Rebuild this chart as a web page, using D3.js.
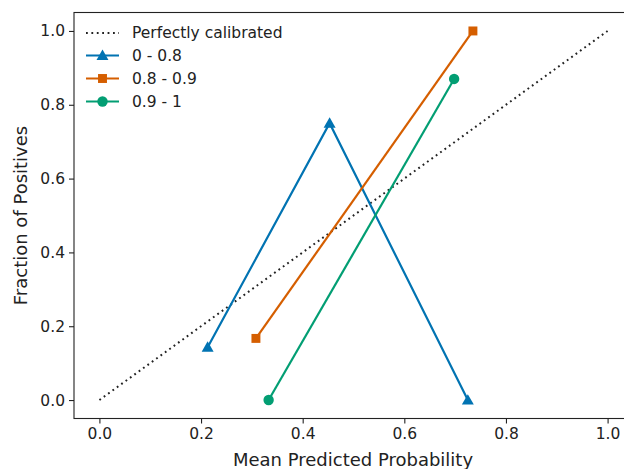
<!DOCTYPE html>
<html>
<head>
<meta charset="utf-8">
<script src="https://cdn.jsdelivr.net/npm/d3@7"></script>
<style>
  html, body { margin: 0; padding: 0; background: #fff; }
  svg { display: block; }
  text { font-family: "DejaVu Sans", sans-serif; fill: #222; }
</style>
</head>
<body>
<svg id="chart" width="624" height="469"></svg>
<script>
// ---- data ----
const seriesNames = ["0 - 0.8", "0.8 - 0.9", "0.9 - 1"];
const seriesColors = ["#0173b2", "#d55e00", "#029e73"];
const seriesMarkers = ["triangle", "square", "circle"];
const predA = [0.213, 0.453, 0.725];
const fracA = [0.143, 0.75, 0.0];
const predB = [0.308, 0.735];
const fracB = [0.167, 1.0];
const predC = [0.333, 0.698];
const fracC = [0.0, 0.87];
const diagX = [0, 1];
const diagY = [0, 1];
const xTicks = [0.0, 0.2, 0.4, 0.6, 0.8, 1.0];
const yTicks = [0.0, 0.2, 0.4, 0.6, 0.8, 1.0];
const xLabel = "Mean Predicted Probability";
const yLabel = "Fraction of Positives";
const diagLabel = "Perfectly calibrated";

const seriesData = [
  predA.map((p, i) => [p, fracA[i]]),
  predB.map((p, i) => [p, fracB[i]]),
  predC.map((p, i) => [p, fracC[i]])
];

// ---- layout ----
const svg = d3.select("#chart");
const mLeft = 74, mTop = 12.5, plotBottom = 418.5, plotRight = 633;
const x = d3.scaleLinear().domain([-0.05, 1.05]).range([mLeft, plotRight]);
const y = d3.scaleLinear().domain([-0.05, 1.05]).range([plotBottom, mTop]);

const tickFont = 15.5;
const labelFont = 18;

// axes
const xAxis = d3.axisBottom(x).tickValues(xTicks).tickFormat(d3.format(".1f")).tickSize(5).tickPadding(4);
const yAxis = d3.axisLeft(y).tickValues(yTicks).tickFormat(d3.format(".1f")).tickSize(5).tickPadding(4);

const gx = svg.append("g").attr("transform", `translate(0,${plotBottom})`).call(xAxis);
const gy = svg.append("g").attr("transform", `translate(${mLeft},0)`).call(yAxis);
[gx, gy].forEach(g => {
  g.select(".domain").remove();
  g.selectAll(".tick line").attr("stroke", "#222").attr("stroke-width", 1.1);
  g.selectAll(".tick text").attr("font-size", tickFont).attr("font-family", "DejaVu Sans").attr("fill", "#222");
});

// frame
svg.append("rect")
  .attr("x", mLeft).attr("y", mTop)
  .attr("width", plotRight - mLeft).attr("height", plotBottom - mTop)
  .attr("fill", "none").attr("stroke", "#222").attr("stroke-width", 1.1);

// labels
svg.append("text")
  .attr("x", 353).attr("y", 466)
  .attr("text-anchor", "middle").attr("font-size", labelFont)
  .text(xLabel);
svg.append("text")
  .attr("transform", `translate(27,${(mTop + plotBottom) / 2}) rotate(-90)`)
  .attr("text-anchor", "middle").attr("font-size", labelFont)
  .text(yLabel);

const plot = svg.append("g");

// diagonal
const line = d3.line().x(d => x(d[0])).y(d => y(d[1]));
plot.append("path")
  .datum(diagX.map((v, i) => [v, diagY[i]]))
  .attr("d", line)
  .attr("fill", "none").attr("stroke", "#222").attr("stroke-width", 2)
  .attr("stroke-dasharray", "1.8,3.6");

const symbolOf = {
  triangle: d3.symbol().type(d3.symbolTriangle).size(62),
  square: d3.symbol().type(d3.symbolSquare).size(80),
  circle: d3.symbol().type(d3.symbolCircle).size(85)
};

seriesData.forEach((data, i) => {
  plot.append("path")
    .datum(data)
    .attr("d", line)
    .attr("fill", "none").attr("stroke", seriesColors[i]).attr("stroke-width", 2.2);
  plot.selectAll(null).data(data).enter().append("path")
    .attr("transform", d => `translate(${x(d[0])},${y(d[1]) + (seriesMarkers[i] === "triangle" ? 1 : 0)})`)
    .attr("d", symbolOf[seriesMarkers[i]]())
    .attr("fill", seriesColors[i]);
});

// legend
const legX0 = 86, legX1 = 119, legText = 132;
const rowsY = [33, 55.5, 78.5, 101.5];
const leg = svg.append("g");
leg.append("line")
  .attr("x1", legX0).attr("x2", legX1).attr("y1", rowsY[0]).attr("y2", rowsY[0])
  .attr("stroke", "#222").attr("stroke-width", 2).attr("stroke-dasharray", "1.8,3.6");
leg.append("text").attr("x", legText).attr("y", rowsY[0]).attr("dy", "0.35em")
  .attr("font-size", tickFont).text(diagLabel);
seriesNames.forEach((name, i) => {
  const yy = rowsY[i + 1];
  leg.append("line")
    .attr("x1", legX0).attr("x2", legX1).attr("y1", yy).attr("y2", yy)
    .attr("stroke", seriesColors[i]).attr("stroke-width", 2.2);
  leg.append("path")
    .attr("transform", `translate(${(legX0 + legX1) / 2},${yy + (seriesMarkers[i] === "triangle" ? 1 : 0)})`)
    .attr("d", symbolOf[seriesMarkers[i]]())
    .attr("fill", seriesColors[i]);
  leg.append("text").attr("x", legText).attr("y", yy).attr("dy", "0.35em")
    .attr("font-size", tickFont).text(name);
});
</script>
</body>
</html>
